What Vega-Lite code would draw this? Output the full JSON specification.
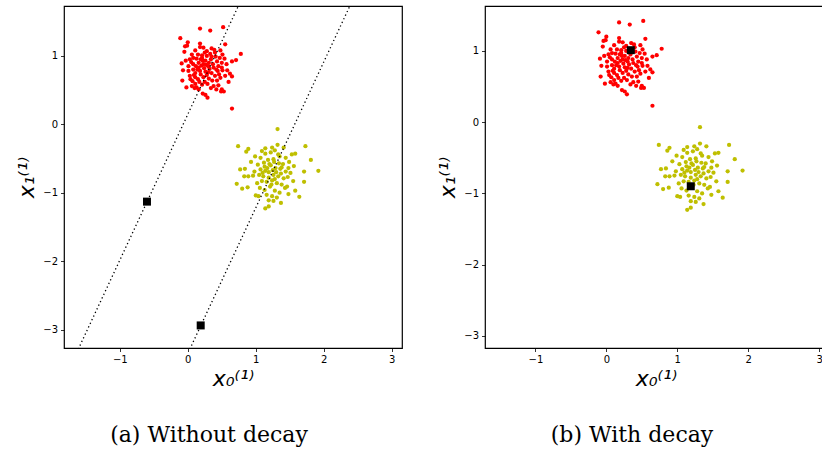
{
  "$schema": "https://vega.github.io/schema/vega-lite/v6.json",
  "padding": {"left": 15, "top": 5, "right": 0, "bottom": 0},
  "background": "white",
  "spacing": 33,
  "datasets": {
    "pts": [
      {"c":"r","x":-0.11,"y":1.26},{"c":"r","x":0.18,"y":1.40},{"c":"r","x":0.33,"y":1.37},{"c":"r","x":0.52,"y":1.42},{"c":"r","x":0.65,"y":0.23},
      {"c":"r","x":0.78,"y":1.03},{"c":"r","x":0.71,"y":0.94},{"c":"r","x":0.65,"y":0.92},{"c":"r","x":0.62,"y":0.74},{"c":"r","x":0.65,"y":0.70},
      {"c":"r","x":0.60,"y":0.62},{"c":"r","x":0.53,"y":0.48},{"c":"r","x":0.49,"y":0.48},{"c":"r","x":0.26,"y":0.43},{"c":"r","x":0.29,"y":0.39},
      {"c":"r","x":0.22,"y":0.45},{"c":"r","x":-0.02,"y":0.54},{"c":"r","x":-0.08,"y":0.64},{"c":"r","x":-0.07,"y":0.79},{"c":"r","x":-0.09,"y":0.89},
      {"c":"r","x":-0.05,"y":1.06},{"c":"r","x":-0.01,"y":1.15},{"c":"r","x":-0.04,"y":1.14},{"c":"r","x":0.00,"y":1.20},{"c":"r","x":0.18,"y":1.18},
      {"c":"r","x":0.18,"y":1.13},{"c":"r","x":0.35,"y":1.11},{"c":"r","x":0.48,"y":1.08},{"c":"r","x":0.55,"y":1.17},{"c":"r","x":0.51,"y":1.02},
      {"c":"r","x":0.40,"y":1.05},{"c":"r","x":0.25,"y":1.05},{"c":"r","x":0.11,"y":1.08},{"c":"r","x":0.06,"y":1.02},{"c":"r","x":0.03,"y":0.95},
      {"c":"r","x":-0.03,"y":0.93},{"c":"r","x":0.08,"y":0.88},{"c":"r","x":0.16,"y":0.90},{"c":"r","x":0.21,"y":0.97},{"c":"r","x":0.28,"y":1.00},
      {"c":"r","x":0.34,"y":0.95},{"c":"r","x":0.43,"y":0.92},{"c":"r","x":0.50,"y":0.90},{"c":"r","x":0.57,"y":0.88},{"c":"r","x":0.45,"y":0.85},
      {"c":"r","x":0.38,"y":0.83},{"c":"r","x":0.30,"y":0.85},{"c":"r","x":0.23,"y":0.88},{"c":"r","x":0.16,"y":0.83},{"c":"r","x":0.08,"y":0.80},
      {"c":"r","x":0.01,"y":0.78},{"c":"r","x":0.03,"y":0.71},{"c":"r","x":0.11,"y":0.75},{"c":"r","x":0.18,"y":0.78},{"c":"r","x":0.26,"y":0.77},
      {"c":"r","x":0.35,"y":0.75},{"c":"r","x":0.44,"y":0.78},{"c":"r","x":0.51,"y":0.79},{"c":"r","x":0.55,"y":0.71},{"c":"r","x":0.48,"y":0.68},
      {"c":"r","x":0.40,"y":0.71},{"c":"r","x":0.31,"y":0.67},{"c":"r","x":0.23,"y":0.69},{"c":"r","x":0.15,"y":0.66},{"c":"r","x":0.07,"y":0.63},
      {"c":"r","x":0.06,"y":0.56},{"c":"r","x":0.13,"y":0.54},{"c":"r","x":0.21,"y":0.58},{"c":"r","x":0.29,"y":0.59},{"c":"r","x":0.38,"y":0.56},
      {"c":"r","x":0.45,"y":0.57},{"c":"r","x":0.50,"y":0.51},{"c":"r","x":0.42,"y":0.51},{"c":"r","x":0.34,"y":0.53},{"c":"r","x":0.16,"y":0.51},
      {"c":"r","x":0.10,"y":0.53},{"c":"r","x":0.21,"y":1.01},{"c":"r","x":0.26,"y":0.93},{"c":"r","x":0.20,"y":0.86},{"c":"r","x":0.13,"y":0.96},
      {"c":"r","x":0.31,"y":0.90},{"c":"r","x":0.37,"y":0.88},{"c":"r","x":0.24,"y":0.82},{"c":"r","x":0.32,"y":0.81},{"c":"r","x":0.41,"y":0.99},
      {"c":"r","x":0.47,"y":0.97},{"c":"r","x":0.12,"y":0.85},{"c":"r","x":0.05,"y":0.91},{"c":"r","x":0.19,"y":0.73},{"c":"r","x":0.28,"y":0.72},
      {"c":"r","x":0.36,"y":0.64},{"c":"r","x":0.25,"y":0.62},{"c":"r","x":0.43,"y":0.64},{"c":"r","x":0.11,"y":0.69},{"c":"r","x":0.22,"y":0.93},
      {"c":"r","x":0.15,"y":1.02},{"c":"r","x":0.33,"y":1.03},{"c":"r","x":0.46,"y":0.73},{"c":"r","x":0.01,"y":0.85},{"c":"r","x":0.54,"y":0.96},
      {"c":"r","x":0.39,"y":1.09},{"c":"r","x":0.23,"y":1.12},{"c":"r","x":0.08,"y":0.97},{"c":"r","x":0.28,"y":1.07},{"c":"r","x":0.50,"y":0.83},
      {"c":"r","x":0.11,"y":0.59},{"c":"r","x":0.14,"y":0.80},{"c":"r","x":0.19,"y":0.95},{"c":"r","x":0.27,"y":0.87},{"c":"r","x":0.35,"y":0.99},
      {"c":"r","x":0.09,"y":0.72},{"c":"r","x":0.42,"y":0.80},{"c":"r","x":0.30,"y":0.76},{"c":"r","x":0.04,"y":0.66},{"c":"r","x":0.17,"y":0.62},
      {"c":"r","x":0.58,"y":0.79},
      {"c":"y","x":1.32,"y":-0.07},{"c":"y","x":0.74,"y":-0.32},{"c":"y","x":1.73,"y":-0.32},{"c":"y","x":1.81,"y":-0.52},{"c":"y","x":1.92,"y":-0.68},
      {"c":"y","x":1.71,"y":-0.69},{"c":"y","x":1.71,"y":-0.84},{"c":"y","x":1.64,"y":-1.06},{"c":"y","x":1.37,"y":-1.15},{"c":"y","x":1.14,"y":-1.23},
      {"c":"y","x":1.19,"y":-1.20},{"c":"y","x":1.26,"y":-1.12},{"c":"y","x":1.19,"y":-1.11},{"c":"y","x":1.04,"y":-1.05},{"c":"y","x":1.00,"y":-1.04},
      {"c":"y","x":0.80,"y":-0.94},{"c":"y","x":0.72,"y":-0.87},{"c":"y","x":0.77,"y":-0.66},{"c":"y","x":0.84,"y":-0.65},{"c":"y","x":0.83,"y":-0.76},
      {"c":"y","x":0.89,"y":-0.76},{"c":"y","x":0.88,"y":-0.92},{"c":"y","x":0.89,"y":-0.36},{"c":"y","x":0.86,"y":-0.40},{"c":"y","x":1.14,"y":-0.35},
      {"c":"y","x":1.32,"y":-0.30},{"c":"y","x":1.53,"y":-0.44},{"c":"y","x":1.58,"y":-0.43},{"c":"y","x":1.41,"y":-0.34},{"c":"y","x":1.56,"y":-0.61},
      {"c":"y","x":1.58,"y":-0.97},{"c":"y","x":1.48,"y":-1.02},{"c":"y","x":0.99,"y":-0.47},{"c":"y","x":1.07,"y":-0.49},{"c":"y","x":1.14,"y":-0.43},
      {"c":"y","x":1.22,"y":-0.41},{"c":"y","x":1.28,"y":-0.38},{"c":"y","x":1.35,"y":-0.47},{"c":"y","x":1.44,"y":-0.49},{"c":"y","x":1.49,"y":-0.55},
      {"c":"y","x":1.03,"y":-0.59},{"c":"y","x":1.12,"y":-0.56},{"c":"y","x":1.18,"y":-0.52},{"c":"y","x":1.26,"y":-0.51},{"c":"y","x":1.34,"y":-0.57},
      {"c":"y","x":1.40,"y":-0.58},{"c":"y","x":1.48,"y":-0.64},{"c":"y","x":0.98,"y":-0.69},{"c":"y","x":1.07,"y":-0.66},{"c":"y","x":1.13,"y":-0.62},
      {"c":"y","x":1.22,"y":-0.60},{"c":"y","x":1.29,"y":-0.64},{"c":"y","x":1.36,"y":-0.65},{"c":"y","x":1.44,"y":-0.69},{"c":"y","x":1.51,"y":-0.71},
      {"c":"y","x":0.96,"y":-0.75},{"c":"y","x":1.05,"y":-0.74},{"c":"y","x":1.11,"y":-0.76},{"c":"y","x":1.19,"y":-0.70},{"c":"y","x":1.26,"y":-0.74},
      {"c":"y","x":1.33,"y":-0.76},{"c":"y","x":1.41,"y":-0.79},{"c":"y","x":1.47,"y":-0.77},{"c":"y","x":1.02,"y":-0.86},{"c":"y","x":1.09,"y":-0.83},
      {"c":"y","x":1.16,"y":-0.84},{"c":"y","x":1.24,"y":-0.82},{"c":"y","x":1.31,"y":-0.86},{"c":"y","x":1.38,"y":-0.88},{"c":"y","x":1.46,"y":-0.91},
      {"c":"y","x":1.06,"y":-0.93},{"c":"y","x":1.13,"y":-0.96},{"c":"y","x":1.21,"y":-0.91},{"c":"y","x":1.28,"y":-0.97},{"c":"y","x":1.35,"y":-1.00},
      {"c":"y","x":1.43,"y":-0.93},{"c":"y","x":1.16,"y":-1.03},{"c":"y","x":1.24,"y":-1.05},{"c":"y","x":1.31,"y":-1.07},{"c":"y","x":1.09,"y":-0.39},
      {"c":"y","x":1.24,"y":-0.34},{"c":"y","x":1.38,"y":-0.63},{"c":"y","x":1.28,"y":-0.80},{"c":"y","x":1.19,"y":-0.78},{"c":"y","x":1.14,"y":-0.68},
      {"c":"y","x":1.33,"y":-0.44},{"c":"y","x":1.20,"y":-0.58},{"c":"y","x":1.25,"y":-0.67},{"c":"y","x":1.30,"y":-0.70},{"c":"y","x":1.17,"y":-0.64},
      {"c":"y","x":1.23,"y":-0.88},{"c":"y","x":1.10,"y":-0.71},{"c":"y","x":1.37,"y":-0.72},{"c":"y","x":1.27,"y":-0.55},{"c":"y","x":0.93,"y":-0.55},
      {"c":"y","x":1.55,"y":-0.83}
    ],
    "ctrA": [{"x":-0.60,"y":-1.13},{"x":0.19,"y":-2.94}],
    "ctrB": [{"x":0.345,"y":1.01},{"x":1.19,"y":-0.90}],
    "lns": [
      {"id":1,"x":-1.71,"y":-3.5},{"id":1,"x":0.87,"y":2.0},
      {"id":2,"x":-0.07,"y":-3.5},{"id":2,"x":2.51,"y":2.0}
    ]
  },
  "hconcat": [
    {
      "width": 338, "height": 342,
      "title": {"text": "(a) Without decay", "orient": "bottom", "font": "DejaVu Serif", "fontSize": 22, "fontWeight": "normal", "color": "black", "offset": 35, "dx": -24},
      "encoding": {
        "x": {"field": "x", "type": "quantitative", "scale": {"domain": [-1.82, 3.15], "nice": false, "zero": false}, "axis": {"values": [-1,0,1,2,3], "format": "d", "title": "x₀⁽¹⁾"}},
        "y": {"field": "y", "type": "quantitative", "scale": {"domain": [-3.27, 1.73], "nice": false, "zero": false}, "axis": {"values": [-3,-2,-1,0,1], "format": "d", "title": "x₁⁽¹⁾"}}
      },
      "layer": [
        {"data": {"name": "pts"}, "mark": {"type": "circle", "size": 18, "opacity": 1},
         "encoding": {"color": {"field": "c", "type": "nominal", "scale": {"domain": ["r","y"], "range": ["#ff0000","#bfbf00"]}, "legend": null}}},
        {"data": {"name": "lns"}, "mark": {"type": "line", "clip": true, "color": "black", "strokeWidth": 1.3, "strokeDash": [1.3, 2.7]},
         "encoding": {"detail": {"field": "id", "type": "nominal"}}},
        {"data": {"name": "ctrA"}, "mark": {"type": "square", "size": 64, "color": "black", "opacity": 1, "filled": true}, "encoding": {}}
      ]
    },
    {
      "width": 342, "height": 342,
      "title": {"text": "(b) With decay", "orient": "bottom", "font": "DejaVu Serif", "fontSize": 22, "fontWeight": "normal", "color": "black", "offset": 35, "dx": -24},
      "encoding": {
        "x": {"field": "x", "type": "quantitative", "scale": {"domain": [-1.71, 3.11], "nice": false, "zero": false}, "axis": {"values": [-1,0,1,2,3], "format": "d", "title": "x₀⁽¹⁾"}},
        "y": {"field": "y", "type": "quantitative", "scale": {"domain": [-3.17, 1.63], "nice": false, "zero": false}, "axis": {"values": [-3,-2,-1,0,1], "format": "d", "title": "x₁⁽¹⁾"}}
      },
      "layer": [
        {"data": {"name": "pts"}, "mark": {"type": "circle", "size": 18, "opacity": 1},
         "encoding": {"color": {"field": "c", "type": "nominal", "scale": {"domain": ["r","y"], "range": ["#ff0000","#bfbf00"]}, "legend": null}}},
        {"data": {"name": "ctrB"}, "mark": {"type": "square", "size": 64, "color": "black", "opacity": 1, "filled": true}, "encoding": {}}
      ]
    }
  ],
  "config": {
    "view": {"stroke": "black", "strokeWidth": 1.2},
    "axis": {
      "grid": false, "domain": false,
      "tickColor": "black", "tickSize": 3.5, "tickWidth": 0.8,
      "labelFont": "DejaVu Sans", "labelFontSize": 10, "labelColor": "black", "labelPadding": 3,
      "titleFont": "DejaVu Sans", "titleFontSize": 22, "titleFontWeight": "normal", "titleFontStyle": "italic", "titleColor": "black"
    }
  }
}
